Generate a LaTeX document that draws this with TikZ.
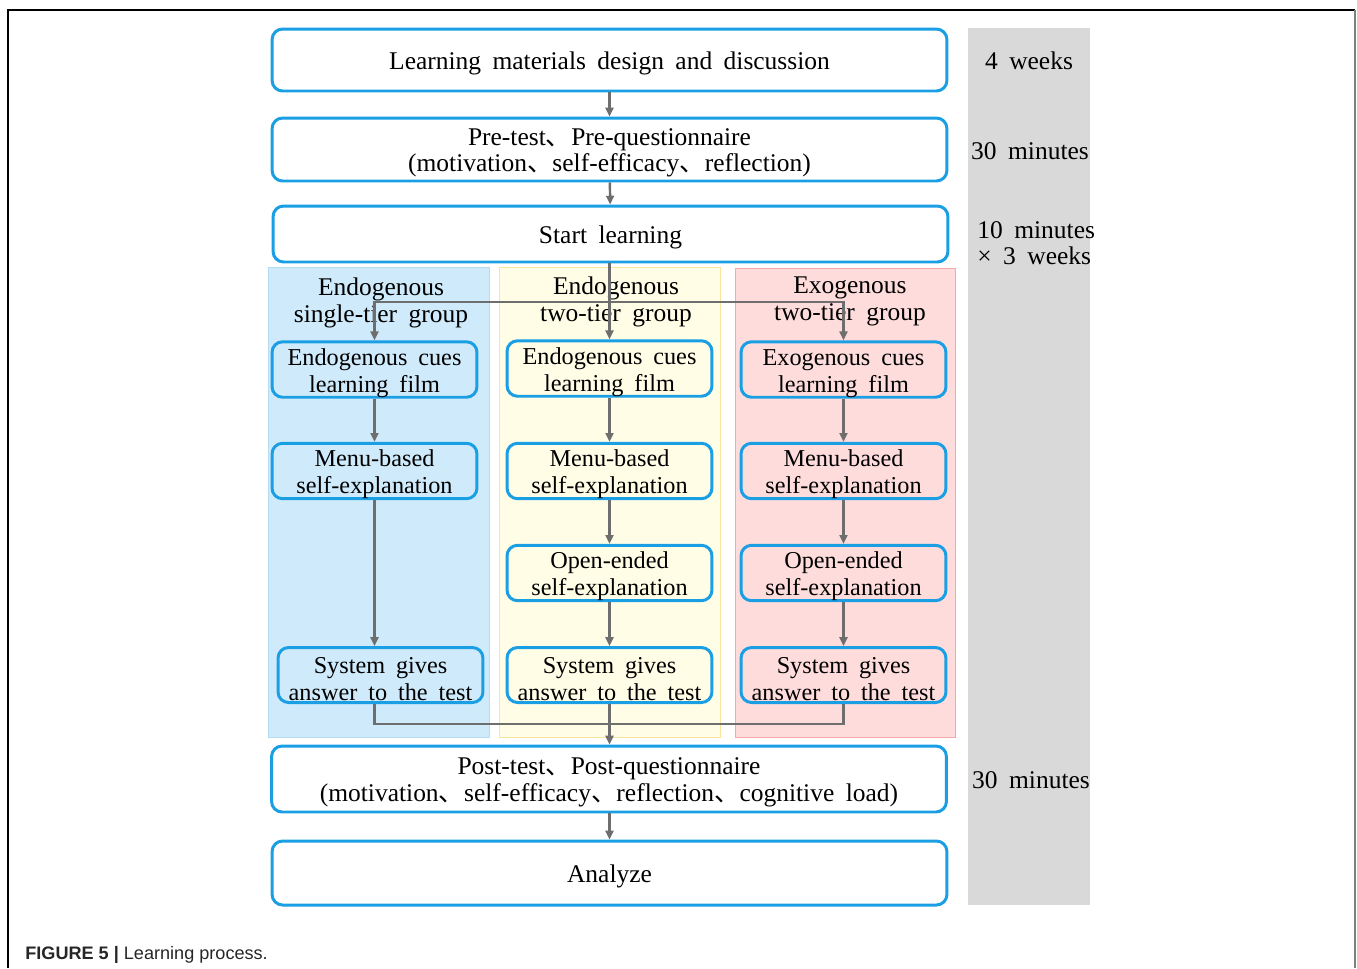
\documentclass[tikz,border=0pt]{standalone}
\usepackage{fontspec}
\setmainfont{Liberation Serif}[WordSpace=1.8]
\newfontfamily\capfont{Liberation Sans}
\newfontfamily\cjk{Noto Sans CJK SC}
\newcommand{\dun}{{\cjk 、}}
\newcommand{\bodyfont}{\fontsize{14.5pt}{15pt}\selectfont}
\newcommand{\subfont}{\fontsize{13.8pt}{15.3pt}\selectfont}
\usetikzlibrary{arrows.meta,positioning}
\definecolor{boxblue}{HTML}{1A9FE5}
\definecolor{flowgray}{HTML}{6E6E6E}
\definecolor{timegray}{HTML}{D9D9D9}
\definecolor{grpblue}{HTML}{CFEBFB}
\definecolor{grpblueline}{HTML}{B5DCF2}
\definecolor{grpyellow}{HTML}{FFFDE6}
\definecolor{grpyellowline}{HTML}{FCE49C}
\definecolor{grppink}{HTML}{FEDCDC}
\definecolor{grppinkline}{HTML}{F4A8A8}

\begin{document}
\begin{tikzpicture}[x=0.02cm, y=-0.02cm,
    drop/.style={execute at begin node={\rule{0pt}{#1}}},
    drop/.default=13.4pt,
    mainbox/.style={draw=boxblue, line width=1.7pt, fill=white, rounded corners=6pt, drop,
                    align=center, minimum width=13.5cm, inner sep=0pt, font=\bodyfont},
    subbox/.style={draw=boxblue, line width=1.7pt, rounded corners=6pt, align=center, drop=28.6pt,
                   minimum width=4.1cm, minimum height=1.1cm, inner sep=0pt, font=\subfont},
    grp/.style={align=center, font=\bodyfont, inner sep=0pt, drop=28.4pt},
    timelbl/.style={font=\bodyfont, inner sep=0pt},
    link/.style={flowgray, line width=1.4pt},
    arr/.style={link, -{Triangle[length=5pt,width=4.5pt]}}]
  \useasboundingbox (0,0) rectangle (1357,968);
  % frame
  \draw[black, line width=0.6pt] (8,968) -- (8,10) -- (1355,10);
  \draw[gray, line width=1.2pt] (1355,10) -- (1355,968);
  % time column
  \fill[timegray] (968,28) rectangle (1090,905);
  % group panels
  \draw[grpblueline, fill=grpblue] (268,267) rectangle (489,737);
  \draw[grpyellowline, fill=grpyellow] (499,267) rectangle (720,737);
  \draw[grppinkline, fill=grppink] (735,268) rectangle (955,737);
  \node[grp] (titleA) at (381,300) {Endogenous\\single-tier group};
  \node[grp] (titleB) at (616,299) {Endogenous\\two-tier group};
  \node[grp] (titleC) at (850,298) {Exogenous\\two-tier group};

  % main steps
  \node[mainbox, minimum height=1.24cm] (learn) at (609.5,60) {Learning materials design and discussion};
  \node[mainbox, minimum height=1.26cm, drop=28.4pt] (pre) at (609.5,149.5)
    {Pre-test\dun Pre-questionnaire\\(motivation\dun self-efficacy\dun reflection)};
  \node[mainbox, minimum height=1.12cm] (start) at (610.5,234) {Start learning};
  \node[mainbox, minimum height=1.32cm, drop=28.4pt] (post) at (609,779)
    {Post-test\dun Post-questionnaire\\(motivation\dun self-efficacy\dun reflection\dun cognitive load)};
  \node[mainbox, minimum height=1.28cm] (analyze) at (609.5,873) {Analyze};

  % group steps
  \node[subbox] (filmA) at (374.5,369.5) {Endogenous cues\\learning film};
  \node[subbox] (menuA) at (374.5,471) {Menu-based\\self-explanation};
  \node[subbox] (sysA) at (380.5,675) {System gives\\answer to the test};
  \node[subbox] (filmB) at (609.5,368.5) {Endogenous cues\\learning film};
  \node[subbox] (menuB) at (609.5,471) {Menu-based\\self-explanation};
  \node[subbox] (openB) at (609.5,573) {Open-ended\\self-explanation};
  \node[subbox] (sysB) at (609.5,675) {System gives\\answer to the test};
  \node[subbox] (filmC) at (843.5,369.5) {Exogenous cues\\learning film};
  \node[subbox] (menuC) at (843.5,471) {Menu-based\\self-explanation};
  \node[subbox] (openC) at (843.5,573) {Open-ended\\self-explanation};
  \node[subbox] (sysC) at (843.5,675) {System gives\\answer to the test};

  % durations
  \node[timelbl] (t1) at (1029,61) {4 weeks};
  \node[timelbl] (t2) at (1030,151) {30 minutes};
  \node[timelbl, align=left, anchor=west] (t3) at (977,243) {10 minutes\\× 3 weeks};
  \node[timelbl] (t4) at (1031,780) {30 minutes};

  % connectors
  \coordinate (split) at (609.5,302);
  \coordinate (merge) at (609.5,724);
  \draw[arr] (learn) -- (pre);
  \draw[arr] (pre) -- (start);
  \draw[arr] (start.south -| filmB.north) -- (filmB.north);
  \draw[arr] (split) -| (filmA.north);
  \draw[arr] (split) -| (filmC.north);
  \draw[arr] (filmA) -- (menuA);
  \draw[arr] (menuA.south) -- (menuA.south |- sysA.north);
  \foreach \g in {B,C} {
    \draw[arr] (film\g) -- (menu\g);
    \draw[arr] (menu\g) -- (open\g);
    \draw[arr] (open\g) -- (sys\g);
  }
  \draw[link] (sysA.south -| menuA.south) |- (merge);
  \draw[link] (sysC.south) |- (merge);
  \draw[arr] (sysB.south) -- (sysB.south |- post.north);
  \draw[arr] (post.south -| analyze.north) -- (analyze.north);

  % caption
  \node[anchor=west, inner sep=0pt, font=\capfont\fontsize{10.3pt}{12pt}\selectfont, text=black!85] (cap) at (25,955)
    {\textbf{FIGURE 5 |} Learning process.};
\end{tikzpicture}
\end{document}
